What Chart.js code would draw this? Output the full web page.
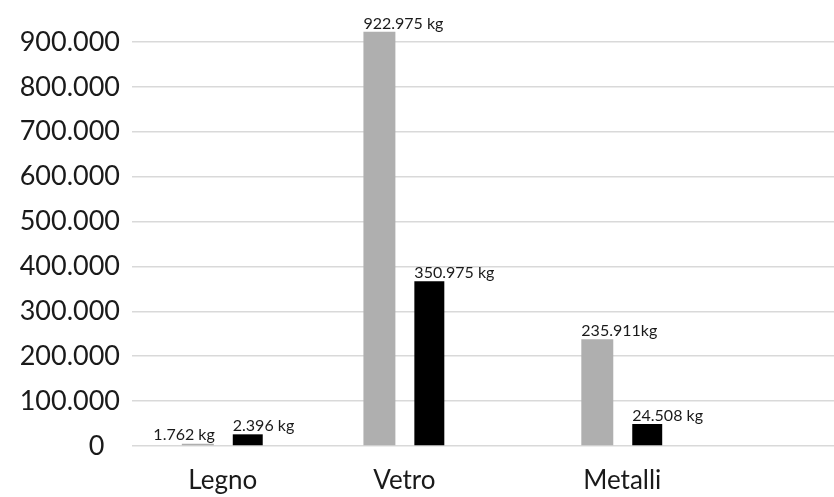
<!DOCTYPE html>
<html>
<head>
<meta charset="utf-8">
<script src="https://cdn.jsdelivr.net/npm/chart.js@4.4.1/dist/chart.umd.min.js"></script>
<style>
    body { margin: 0; background: #fff; }
</style>
</head>
<body>
<canvas id="chart" width="834" height="497"></canvas>
<script>
// dati
const categories = ['Legno', 'Vetro', 'Metalli'];
const greyValues = [5000, 923000, 238000];
const blackValues = [26000, 367000, 49000];
const greyLabels = ['1.762 kg', '922.975 kg', '235.911kg'];
const blackLabels = ['2.396 kg', '350.975 kg', '24.508 kg'];
const yTicks = [0, 100000, 200000, 300000, 400000, 500000, 600000, 700000, 800000, 900000];

// le categorie non sono equidistanti: uso slot vuoti sull'asse x
const slotCount = 19;
const categorySlots = [2, 7, 13];

function spread(values, empty) {
    const out = new Array(slotCount).fill(empty);
    categorySlots.forEach((s, i) => { out[s] = values[i]; });
    return out;
}

function formatThousands(v) {
    return String(v).replace(/\B(?=(\d{3})+(?!\d))/g, '.');
}

// etichette sopra le barre
const barLabels = {
    id: 'barLabels',
    afterDatasetsDraw(chart, args, opts) {
        const ctx = chart.ctx;
        ctx.save();
        ctx.font = '16px Lato';
        ctx.fillStyle = '#1a1a1a';
        ctx.textBaseline = 'alphabetic';
        chart.data.datasets.forEach((ds, di) => {
            const meta = chart.getDatasetMeta(di);
            meta.data.forEach((bar, i) => {
                if (ds.data[i] == null) return;
                const k = categorySlots.indexOf(i);
                const text = ds.texts[k];
                const left = bar.x - bar.width / 2;
                const right = bar.x + bar.width / 2;
                if (opts.alignEnd[di][k]) {
                    ctx.textAlign = 'right';
                    ctx.fillText(text, right + 1, bar.y - 4);
                } else {
                    ctx.textAlign = 'left';
                    ctx.fillText(text, left, bar.y - 3);
                }
            });
        });
        ctx.restore();
    }
};

const ctx = document.getElementById('chart').getContext('2d');

const chart = new Chart(ctx, {
    type: 'bar',
    data: {
        labels: spread(categories, ''),
        datasets: [{
            data: spread(greyValues, null),
            texts: greyLabels,
            backgroundColor: '#afafaf',
            categoryPercentage: 2.75,
            barPercentage: 0.64,
            clip: false
        }, {
            data: spread(blackValues, null),
            texts: blackLabels,
            backgroundColor: '#000000',
            categoryPercentage: 2.75,
            barPercentage: 0.6,
            clip: false
        }]
    },
    options: {
        responsive: false,
        animation: false,
        layout: { padding: { top: 42, left: 0, right: 0, bottom: 0 } },
        plugins: {
            legend: { display: false },
            tooltip: { enabled: false },
            barLabels: { alignEnd: [[true, false, false], [false, false, false]] }
        },
        scales: {
            x: {
                grid: { display: false, drawTicks: false },
                border: { display: false },
                afterFit(scale) {
                    scale.height = 51;
                },
                ticks: {
                    autoSkip: false,
                    maxRotation: 0,
                    padding: 19,
                    color: '#1a1a1a',
                    font: { family: 'Lato', size: 26 }
                }
            },
            y: {
                min: 0,
                max: 900000,
                afterBuildTicks(scale) {
                    scale.ticks = yTicks.map(v => ({ value: v }));
                },
                afterFit(scale) {
                    scale.width = 132;
                },
                grid: { color: '#d9d9d9', lineWidth: 1.5, drawTicks: false },
                border: { display: false },
                ticks: {
                    padding: 12,
                    color: '#1a1a1a',
                    font: { family: 'Lato', size: 27 },
                    callback: v => v === 0 ? '0\u2007' : formatThousands(v)
                }
            },
            // asse destro solo per prolungare la griglia oltre l'area delle barre
            yRight: {
                position: 'right',
                min: 0,
                max: 900000,
                afterBuildTicks(scale) {
                    scale.ticks = yTicks.map(v => ({ value: v }));
                },
                grid: { color: '#d9d9d9', lineWidth: 1.5, drawOnChartArea: false, drawTicks: true, tickLength: 12 },
                border: { display: false },
                ticks: { display: false }
            }
        }
    },
    plugins: [barLabels]
});
</script>
</body>
</html>
